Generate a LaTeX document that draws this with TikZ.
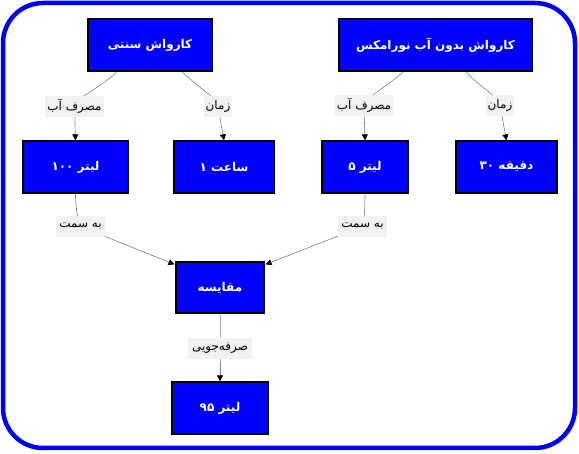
\documentclass[tikz,border=0pt]{standalone}
\usepackage{fontspec}
\newfontfamily\arabicfont[Script=Arabic]{DejaVu Sans}
\TeXXeTstate=1
\usetikzlibrary{arrows.meta,backgrounds}
\definecolor{boxblue}{HTML}{0000FF}
\definecolor{edgegray}{HTML}{808080}
\definecolor{labelbg}{HTML}{F2F2F2}
\begin{document}
\begin{tikzpicture}[x=1pt,y=-1pt,
  box/.style={draw=black, line width=1.2pt, fill=boxblue, text=white,
    font=\arabicfont\bfseries\fontsize{12}{14}\selectfont, inner sep=2pt, minimum height=52pt},
  elabel/.style={fill=labelbg, font=\arabicfont\fontsize{12}{14}\selectfont,
    inner xsep=2pt, inner ysep=0pt, minimum height=21pt},
  conn/.style={draw=edgegray, line width=0.6pt},
  arr/.style={conn, -{Triangle[length=6pt,width=6pt,color=black]}}]
\useasboundingbox (0,0) rectangle (579,454);
\draw[draw=boxblue, line width=4.5pt, rounded corners=40pt] (3,3) rectangle (575,448);

\node[box, minimum width=124pt] (A) at (150,45) {\beginR کارواش سنتی\endR};
\node[box, minimum width=193pt] (B) at (435.5,45) {\beginR کارواش بدون آب نورامکس\endR};
\node[box, minimum width=105pt] (C) at (75.5,167) {\beginR لیتر ۱۰۰\endR};
\node[box, minimum width=100pt] (D) at (224,167) {\beginR ساعت ۱\endR};
\node[box, minimum width=86pt] (E) at (365,167) {\beginR لیتر ۵\endR};
\node[box, minimum width=101pt] (F) at (506.5,167) {\beginR دقیقه ۳۰\endR};
\node[box, minimum width=88pt, minimum height=51pt] (G) at (220,287.5) {\beginR مقایسه\endR};
\node[box, minimum width=96pt] (H) at (220,408) {\beginR لیتر ۹۵\endR};

\node[elabel, minimum width=57pt] (L1) at (74.5,106.5) {\beginR مصرف آب\endR};
\node[elabel, minimum width=24pt] (L2) at (218,106.5) {\beginR زمان\endR};
\node[elabel, minimum width=56pt] (L3) at (364,105.5) {\beginR مصرف آب\endR};
\node[elabel, minimum width=26pt] (L4) at (500,105.5) {\beginR زمان\endR};
\node[elabel, minimum width=49pt] (L5) at (80.5,226.5) {\beginR به سمت\endR};
\node[elabel, minimum width=49pt] (L6) at (362.5,226.5) {\beginR به سمت\endR};
\node[elabel, minimum width=64pt] (L7) at (220,348.5) {\beginR صرفه‌جویی\endR};

\begin{scope}[on background layer]
\draw[arr] ([xshift=-33pt]A.south) .. controls +(-16,16) and +(0,-8) .. (L1.center) -- (C.north);
\draw[arr] ([xshift=32pt]A.south) .. controls +(16,16) and +(0,-8) .. (L2.center) -- (D.north);
\draw[arr] ([xshift=-32.5pt]B.south) .. controls +(-16,16) and +(0,-8) .. (L3.center) -- (E.north);
\draw[arr] ([xshift=30.5pt]B.south) .. controls +(14,16) and +(0,-8) .. (L4.center) -- (F.north);
\draw[arr] (C.south) .. controls +(0,14) and +(-3,-8) .. (L5.center) -- ([xshift=-1pt,yshift=-3pt]G.north west);
\draw[arr] (E.south) .. controls +(0,14) and +(2,-8) .. (L6.center) -- ([xshift=1pt,yshift=-3pt]G.north east);
\draw[arr] (G.south) -- (L7.center) -- (H.north);
\end{scope}
\end{tikzpicture}
\end{document}
